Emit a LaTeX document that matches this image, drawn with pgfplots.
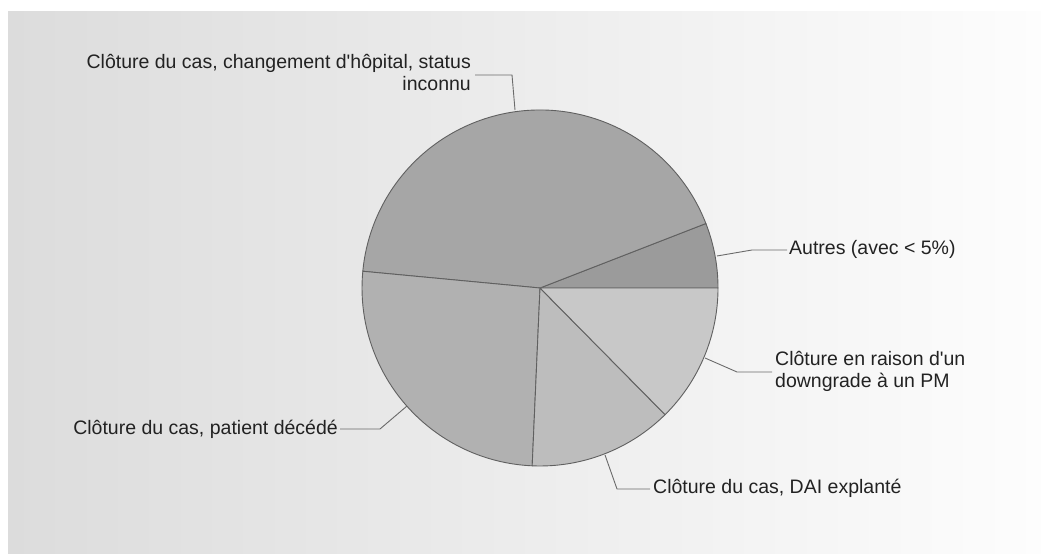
\documentclass[border=0pt]{standalone}
\usepackage{pgfplots}
\pgfplotsset{compat=1.18}
\usepackage{fontspec}
\setmainfont{Liberation Sans}
\definecolor{cA}{HTML}{9B9B9B}
\definecolor{cB}{HTML}{A6A6A6}
\definecolor{cC}{HTML}{B1B1B1}
\definecolor{cD}{HTML}{BDBDBD}
\definecolor{cE}{HTML}{C8C8C8}
\definecolor{edge}{HTML}{606060}
\definecolor{lead}{HTML}{6A6A6A}
\definecolor{txt}{HTML}{222222}
\definecolor{bgL}{HTML}{DCDCDC}
\definecolor{bgR}{HTML}{FDFDFD}
% slice shares in percent, counter-clockwise from 3 o'clock
\def\pievalues{5.9/cA, 42.6/cB, 25.8/cC, 13.1/cD, 12.6/cE}
\begin{document}
\begin{tikzpicture}
\begin{axis}[
  width=1041bp, height=554bp, scale only axis,
  xmin=0, xmax=1041, ymin=0, ymax=554,
  hide axis, clip=false,
]
\fill[white] (axis cs:0,0) rectangle (axis cs:1041,554);
\shade[left color=bgL, right color=bgR] (axis cs:8,0) rectangle (axis cs:1041,542);
\gdef\cum{0}
\foreach \v/\c in \pievalues {
  \pgfmathsetmacro\a{\cum}
  \pgfmathsetmacro\b{\cum+3.6*\v}
  \edef\doslice{\noexpand\filldraw[fill=\c, draw=edge, line width=0.9bp, line join=round] (axis cs:540,266) -- ++(\a:178bp) arc[start angle=\a, end angle=\b, radius=178bp] -- cycle;}
  \doslice
  \xdef\cum{\b}
}
% leader lines
\begin{scope}[draw=lead, line width=0.9bp]
\draw (axis cs:475,479) -- (axis cs:512,479) -- (axis cs:515,444);
\draw (axis cs:717,298) -- (axis cs:752,304) -- (axis cs:787,304);
\draw (axis cs:705,196) -- (axis cs:737,182) -- (axis cs:772,182);
\draw (axis cs:340,125) -- (axis cs:380,125) -- (axis cs:407,148);
\draw (axis cs:650,65) -- (axis cs:617,65) -- (axis cs:605,99);
\end{scope}
% labels
\begin{scope}[every node/.style={text=txt, inner sep=0pt, font=\fontsize{19.5bp}{22bp}\selectfont}]
\node[anchor=east, align=right] at (axis cs:471,481) {Clôture du cas, changement d\textquotesingle hôpital, status\\inconnu};
\node[anchor=west] at (axis cs:789,305) {Autres (avec < 5\%)};
\node[anchor=west, align=left] at (axis cs:775,183) {Clôture en raison d\textquotesingle un\\downgrade à un PM};
\node[anchor=east] at (axis cs:338,125) {Clôture du cas, patient décédé};
\node[anchor=west] at (axis cs:653,66) {Clôture du cas, DAI explanté};
\end{scope}
\end{axis}
\end{tikzpicture}
\end{document}
